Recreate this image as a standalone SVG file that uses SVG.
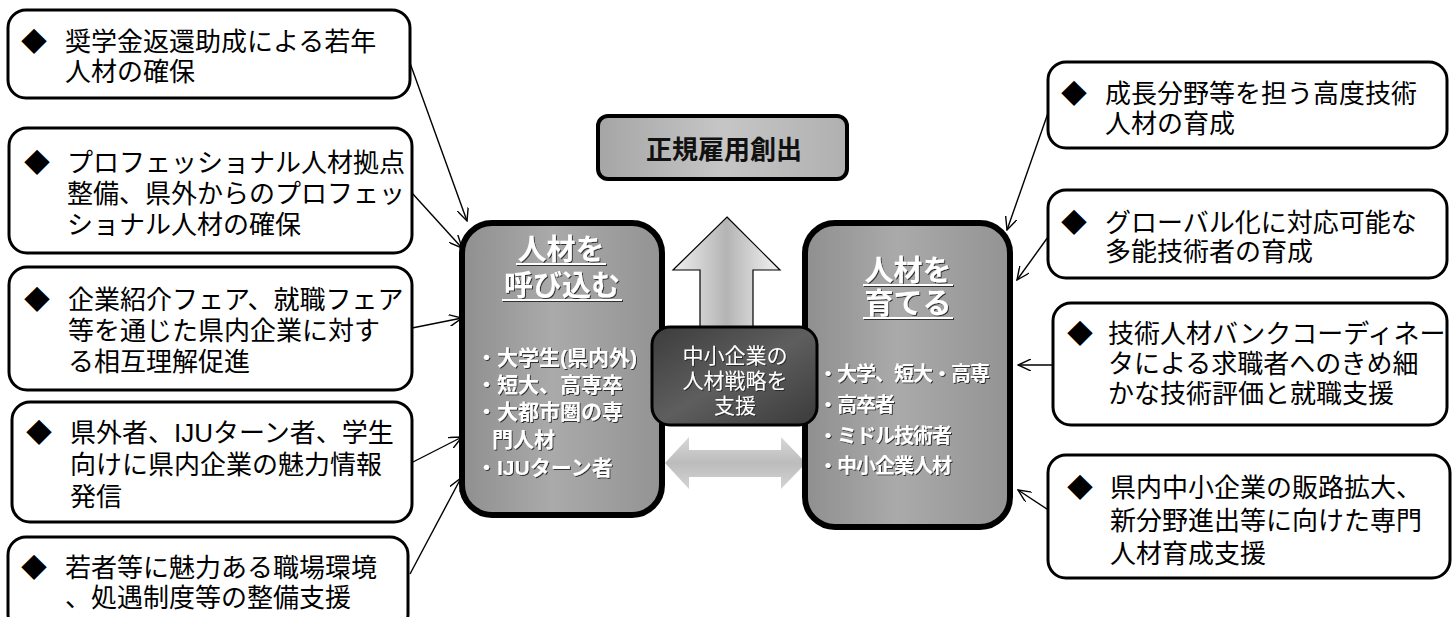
<svg xmlns="http://www.w3.org/2000/svg" width="1454" height="617" viewBox="0 0 1454 617">
<defs>
<style>
.box{fill:#fff;stroke:#000;stroke-width:3}
.t{font-family:"Liberation Sans","Noto Sans CJK JP",sans-serif;font-size:26px;fill:#000}
.w{font-family:"Liberation Sans","Noto Sans CJK JP",sans-serif;fill:#fff;font-weight:bold;filter:url(#sh)}
.wn{font-family:"Liberation Sans","Noto Sans CJK JP",sans-serif;fill:#fff;font-size:21px;filter:url(#sh)}
.ul{fill:#fff;filter:url(#sh)}
.con{stroke:#000;stroke-width:1.4;fill:none;marker-end:url(#ah)}
</style>
<marker id="ah" viewBox="0 0 14 12" refX="13" refY="6" markerWidth="14" markerHeight="12" markerUnits="userSpaceOnUse" orient="auto">
<path d="M0,0 L13,6 L0,12" fill="none" stroke="#000" stroke-width="1.4"/>
</marker>
<filter id="sh" x="-20%" y="-50%" width="140%" height="200%">
<feDropShadow dx="1" dy="1" stdDeviation="0.6" flood-color="#222" flood-opacity="0.9"/>
</filter>
<linearGradient id="gside" x1="0" y1="0" x2="1" y2="0">
<stop offset="0" stop-color="#8f8f8f"/>
<stop offset="0.45" stop-color="#aaaaaa"/>
<stop offset="1" stop-color="#939393"/>
</linearGradient>
<linearGradient id="gdark" x1="0" y1="0" x2="1" y2="1">
<stop offset="0" stop-color="#3c3c3c"/>
<stop offset="0.5" stop-color="#5e5e5e"/>
<stop offset="1" stop-color="#3a3a3a"/>
</linearGradient>
<linearGradient id="gtop" x1="0" y1="0" x2="1" y2="0">
<stop offset="0" stop-color="#a5a5a5"/>
<stop offset="0.5" stop-color="#c6c6c6"/>
<stop offset="1" stop-color="#b0b0b0"/>
</linearGradient>
<linearGradient id="gup" x1="0" y1="0" x2="1" y2="0">
<stop offset="0" stop-color="#f0f0f0"/>
<stop offset="0.5" stop-color="#b4b4b4"/>
<stop offset="1" stop-color="#f4f4f4"/>
</linearGradient>
<linearGradient id="gdbl" x1="0" y1="0" x2="0" y2="1">
<stop offset="0" stop-color="#d8d8d8"/>
<stop offset="0.5" stop-color="#bcbcbc"/>
<stop offset="1" stop-color="#d4d4d4"/>
</linearGradient>
</defs>
<rect width="1454" height="617" fill="#fff"/>

<g id="connectors">
<line class="con" x1="410" y1="63" x2="467" y2="221"/>
<line class="con" x1="412" y1="193" x2="462" y2="248"/>
<line class="con" x1="412" y1="328" x2="462" y2="318"/>
<line class="con" x1="413" y1="462" x2="462" y2="437"/>
<line class="con" x1="410" y1="574" x2="461" y2="478"/>
<line class="con" x1="1048" y1="113" x2="1007" y2="230"/>
<line class="con" x1="1048" y1="237" x2="1017" y2="280"/>
<line class="con" x1="1053" y1="365" x2="1018" y2="365"/>
<line class="con" x1="1053" y1="513" x2="1018" y2="490"/>
</g>

<g id="L1">
<rect class="box" x="8" y="10" width="402" height="88" rx="18"/>
<text class="t" x="21" y="51">◆</text>
<text class="t" x="65" y="51">奨学金返還助成による若年</text>
<text class="t" x="65" y="81">人材の確保</text>
</g>
<g id="L2">
<rect class="box" x="9" y="128" width="403" height="125" rx="18"/>
<text class="t" x="24" y="172">◆</text>
<text class="t" x="67" y="172">プロフェッショナル人材拠点</text>
<text class="t" x="67" y="203">整備、県外からのプロフェッ</text>
<text class="t" x="67" y="234">ショナル人材の確保</text>
</g>
<g id="L3">
<rect class="box" x="9" y="267" width="403" height="123" rx="18"/>
<text class="t" x="24" y="309">◆</text>
<text class="t" x="68" y="309">企業紹介フェア、就職フェア</text>
<text class="t" x="68" y="340">等を通じた県内企業に対す</text>
<text class="t" x="68" y="371">る相互理解促進</text>
</g>
<g id="L4">
<rect class="box" x="12" y="402" width="400" height="120" rx="18"/>
<text class="t" x="26" y="442">◆</text>
<text class="t" x="70" y="442">県外者、IJUターン者、学生</text>
<text class="t" x="70" y="474">向けに県内企業の魅力情報</text>
<text class="t" x="70" y="506">発信</text>
</g>
<g id="L5">
<rect class="box" x="8" y="537" width="400" height="95" rx="18"/>
<text class="t" x="21" y="577">◆</text>
<text class="t" x="65" y="577">若者等に魅力ある職場環境</text>
<text class="t" x="65" y="607">、処遇制度等の整備支援</text>
</g>

<g id="R1">
<rect class="box" x="1048" y="62" width="399" height="86" rx="18"/>
<text class="t" x="1061" y="103">◆</text>
<text class="t" x="1105" y="103">成長分野等を担う高度技術</text>
<text class="t" x="1105" y="133">人材の育成</text>
</g>
<g id="R2">
<rect class="box" x="1048" y="190" width="399" height="88" rx="18"/>
<text class="t" x="1061" y="232">◆</text>
<text class="t" x="1105" y="232">グローバル化に対応可能な</text>
<text class="t" x="1105" y="261">多能技術者の育成</text>
</g>
<g id="R3">
<rect class="box" x="1053" y="303" width="394" height="122" rx="18"/>
<text class="t" x="1067" y="343">◆</text>
<text class="t" x="1108" y="343">技術人材バンクコーディネー</text>
<text class="t" x="1108" y="373">タによる求職者へのきめ細</text>
<text class="t" x="1108" y="403">かな技術評価と就職支援</text>
</g>
<g id="R4">
<rect class="box" x="1048" y="455" width="402" height="123" rx="18"/>
<text class="t" x="1067" y="497">◆</text>
<text class="t" x="1110" y="497">県内中小企業の販路拡大、</text>
<text class="t" x="1110" y="530">新分野進出等に向けた専門</text>
<text class="t" x="1110" y="563">人材育成支援</text>
</g>

<g id="top">
<rect x="598" y="116" width="249" height="63" rx="10" fill="url(#gtop)" stroke="#000" stroke-width="4"/>
<text x="724" y="159" text-anchor="middle" font-family="Liberation Sans,Noto Sans CJK JP,sans-serif" font-size="26" font-weight="bold" fill="#111">正規雇用創出</text>
</g>

<g id="uparrow">
<polygon points="727,217 780,270 753,270 753,335 700,335 700,270 673,270" fill="url(#gup)" stroke="#000" stroke-width="1.2"/>
</g>

<g id="dblarrow">
<polygon points="665,463 689,437 689,450 781,450 781,437 806,463 781,489 781,477 689,477 689,489" fill="url(#gdbl)"/>
</g>

<g id="left">
<rect x="462" y="223" width="200" height="292" rx="30" fill="url(#gside)" stroke="#000" stroke-width="6"/>
<text class="w" x="561" y="260" text-anchor="middle" font-size="29">人材を</text>
<rect class="ul" x="516" y="263" width="90" height="2"/>
<text class="w" x="562" y="296" text-anchor="middle" font-size="29">呼び込む</text>
<rect class="ul" x="502" y="299" width="120" height="2"/>
<text class="w" x="476" y="365" font-size="21">・大学生(県内外)</text>
<text class="w" x="476" y="392" font-size="21">・短大、高専卒</text>
<text class="w" x="476" y="419" font-size="21">・大都市圏の専</text>
<text class="w" x="492" y="447" font-size="21">門人材</text>
<text class="w" x="476" y="475" font-size="21">・IJUターン者</text>
</g>

<g id="right">
<rect x="805" y="223" width="205" height="304" rx="30" fill="url(#gside)" stroke="#000" stroke-width="6"/>
<text class="w" x="908" y="281" text-anchor="middle" font-size="29">人材を</text>
<rect class="ul" x="863" y="284" width="90" height="2"/>
<text class="w" x="908" y="314" text-anchor="middle" font-size="29">育てる</text>
<rect class="ul" x="863" y="317" width="90" height="2"/>
<text class="w" x="818" y="381" font-size="20" letter-spacing="-1">・大学、短大・高専</text>
<text class="w" x="818" y="412" font-size="20" letter-spacing="-1">・高卒者</text>
<text class="w" x="818" y="443" font-size="20" letter-spacing="-1">・ミドル技術者</text>
<text class="w" x="818" y="473" font-size="20" letter-spacing="-1">・中小企業人材</text>
</g>

<g id="center">
<rect x="652" y="327" width="165" height="98" rx="18" fill="url(#gdark)" stroke="#000" stroke-width="3"/>
<text class="wn" x="735" y="363" text-anchor="middle">中小企業の</text>
<text class="wn" x="735" y="388" text-anchor="middle">人材戦略を</text>
<text class="wn" x="735" y="413" text-anchor="middle">支援</text>
</g>
</svg>
